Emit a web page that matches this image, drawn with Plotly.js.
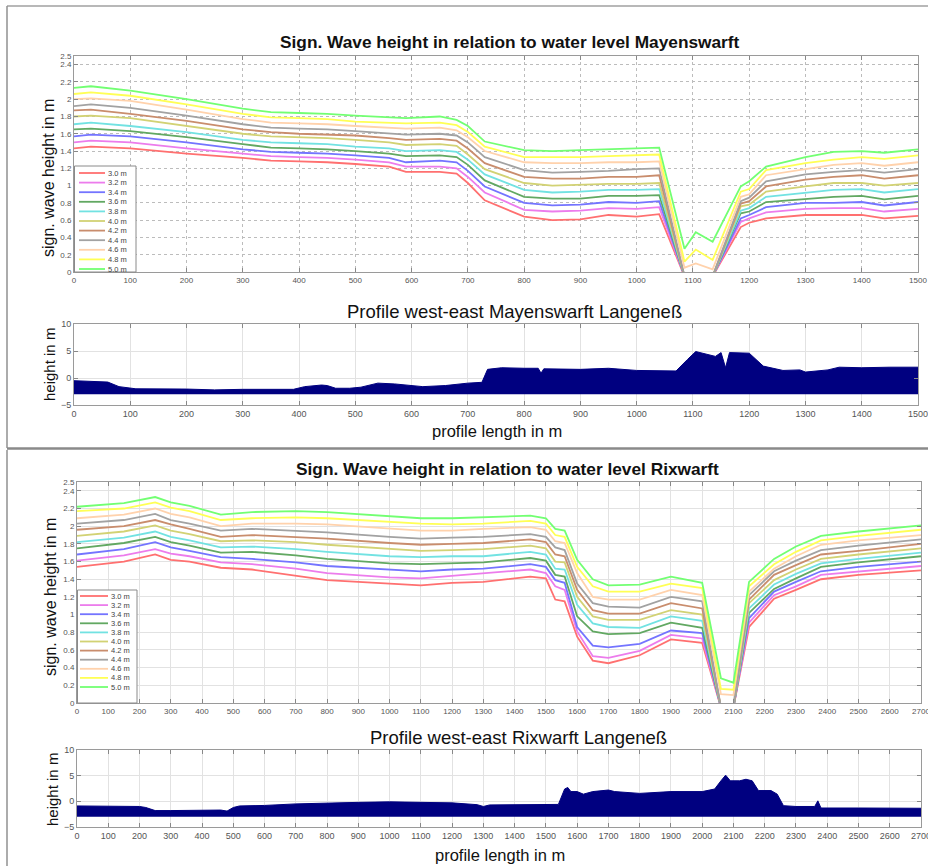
<!DOCTYPE html>
<html><head><meta charset="utf-8">
<script src="https://cdn.plot.ly/plotly-3.0.1.min.js"></script>
<style>html,body{margin:0;padding:0;background:#fff}</style>
</head><body><div id="chart" style="width:928px;height:866px"></div>
<script>
// ---------- data ----------
const levelLabels = ['3.0 m','3.2 m','3.4 m','3.6 m','3.8 m','4.0 m','4.2 m','4.4 m','4.6 m','4.8 m','5.0 m'];
const levelColors = ['#ff7070','#ec7cec','#7474ff','#62a862','#72e2e2','#d2d274','#c98d6d','#a2a2a2','#ffd2ac','#ffff55','#72ff72'];

// Mayenswarft: significant wave height (m) along profile (m)
const xMay = [0,30,100,200,300,350,400,450,500,560,590,650,680,700,730,800,850,900,950,1000,1040,1085,1105,1135,1185,1200,1230,1300,1350,1400,1440,1500];
const may30 = [1.43,1.45,1.43,1.37,1.32,1.29,1.28,1.27,1.25,1.22,1.16,1.16,1.14,1.03,0.83,0.64,0.60,0.61,0.66,0.64,0.67,-0.05,-0.1,-0.05,0.52,0.57,0.62,0.66,0.66,0.66,0.62,0.65];
const may32 = [1.50,1.52,1.50,1.43,1.37,1.34,1.33,1.32,1.30,1.27,1.22,1.22,1.20,1.10,0.92,0.72,0.70,0.71,0.74,0.73,0.75,-0.05,-0.1,-0.05,0.58,0.62,0.69,0.73,0.74,0.74,0.70,0.73];
const may34 = [1.57,1.59,1.57,1.50,1.42,1.39,1.38,1.37,1.35,1.32,1.27,1.29,1.27,1.17,0.99,0.80,0.77,0.78,0.81,0.80,0.82,-0.05,-0.1,-0.05,0.62,0.66,0.75,0.80,0.80,0.81,0.77,0.81];
const may36 = [1.65,1.66,1.63,1.56,1.48,1.44,1.43,1.42,1.40,1.37,1.34,1.35,1.33,1.24,1.06,0.87,0.85,0.85,0.88,0.88,0.89,-0.05,-0.1,-0.05,0.68,0.70,0.81,0.85,0.87,0.88,0.84,0.88];
const may38 = [1.71,1.73,1.69,1.62,1.53,1.50,1.49,1.48,1.45,1.43,1.40,1.41,1.39,1.30,1.13,0.95,0.92,0.93,0.95,0.95,0.96,-0.05,-0.1,-0.05,0.71,0.74,0.87,0.92,0.95,0.96,0.92,0.96];
const may40 = [1.80,1.81,1.78,1.69,1.60,1.57,1.56,1.55,1.53,1.50,1.47,1.48,1.46,1.36,1.19,1.03,1.00,1.01,1.02,1.02,1.03,-0.05,-0.1,-0.05,0.76,0.78,0.93,0.99,1.03,1.03,1.00,1.03];
const may42 = [1.87,1.88,1.83,1.75,1.65,1.62,1.60,1.59,1.58,1.55,1.53,1.54,1.52,1.43,1.26,1.10,1.08,1.08,1.10,1.10,1.12,-0.05,-0.1,-0.05,0.79,0.82,0.99,1.07,1.10,1.12,1.08,1.12];
const may44 = [1.92,1.94,1.90,1.81,1.71,1.67,1.66,1.65,1.63,1.60,1.59,1.60,1.58,1.50,1.33,1.18,1.15,1.16,1.17,1.19,1.20,-0.05,-0.1,-0.05,0.82,0.86,1.05,1.13,1.16,1.18,1.15,1.19];
const may46 = [2.00,2.01,1.98,1.88,1.77,1.73,1.72,1.71,1.69,1.67,1.66,1.67,1.64,1.56,1.40,1.27,1.26,1.26,1.27,1.27,1.28,0.05,0.10,0.03,0.87,0.90,1.12,1.19,1.24,1.26,1.23,1.27];
const may48 = [2.06,2.08,2.04,1.94,1.83,1.79,1.78,1.77,1.74,1.73,1.72,1.73,1.70,1.62,1.45,1.33,1.33,1.33,1.34,1.35,1.36,0.12,0.26,0.14,0.93,0.96,1.18,1.26,1.30,1.33,1.31,1.35];
const may50 = [2.13,2.15,2.10,2.00,1.89,1.85,1.84,1.83,1.81,1.79,1.78,1.80,1.76,1.69,1.51,1.41,1.40,1.41,1.42,1.43,1.44,0.27,0.46,0.35,0.99,1.05,1.22,1.33,1.39,1.40,1.38,1.42];

// Rixwarft: significant wave height (m) along profile (m)
const xRix = [0,150,250,300,360,460,560,700,800,1000,1100,1200,1300,1450,1500,1530,1560,1600,1650,1700,1800,1900,2000,2060,2100,2150,2230,2300,2380,2500,2700];
const rix30 = [1.54,1.60,1.68,1.62,1.60,1.53,1.51,1.44,1.39,1.35,1.33,1.36,1.37,1.43,1.41,1.17,1.15,0.75,0.48,0.45,0.54,0.72,0.68,-0.05,-0.05,0.86,1.18,1.28,1.40,1.45,1.50];
const rix32 = [1.61,1.67,1.74,1.69,1.66,1.59,1.57,1.52,1.47,1.42,1.41,1.44,1.47,1.51,1.47,1.32,1.28,0.81,0.53,0.51,0.59,0.77,0.73,-0.05,-0.05,0.91,1.22,1.32,1.45,1.49,1.55];
const rix34 = [1.68,1.74,1.82,1.76,1.72,1.65,1.63,1.59,1.55,1.51,1.49,1.51,1.52,1.57,1.54,1.39,1.36,0.86,0.65,0.63,0.67,0.82,0.79,-0.05,-0.05,0.96,1.26,1.37,1.49,1.54,1.60];
const rix36 = [1.75,1.81,1.88,1.82,1.78,1.70,1.71,1.67,1.63,1.58,1.57,1.58,1.59,1.64,1.61,1.45,1.43,0.98,0.81,0.78,0.79,0.91,0.85,-0.05,-0.05,1.02,1.29,1.41,1.54,1.59,1.66];
const rix38 = [1.82,1.87,1.94,1.88,1.84,1.76,1.77,1.74,1.71,1.66,1.65,1.66,1.66,1.71,1.68,1.52,1.51,1.11,0.90,0.86,0.85,0.98,0.93,-0.05,-0.05,1.07,1.34,1.46,1.58,1.63,1.70];
const rix40 = [1.89,1.94,2.01,1.95,1.91,1.83,1.84,1.82,1.79,1.74,1.72,1.73,1.74,1.78,1.75,1.60,1.59,1.20,0.98,0.94,0.94,1.05,1.00,-0.05,-0.05,1.13,1.39,1.51,1.63,1.68,1.75];
const rix42 = [1.96,2.00,2.07,2.02,1.97,1.88,1.90,1.88,1.86,1.81,1.79,1.80,1.81,1.85,1.82,1.68,1.66,1.28,1.05,1.01,1.01,1.13,1.07,-0.05,-0.05,1.17,1.45,1.56,1.68,1.72,1.80];
const rix44 = [2.03,2.07,2.14,2.07,2.03,1.95,1.97,1.95,1.93,1.88,1.86,1.87,1.88,1.91,1.88,1.76,1.73,1.35,1.13,1.09,1.08,1.20,1.15,-0.05,-0.05,1.22,1.49,1.61,1.73,1.78,1.85];
const rix46 = [2.09,2.13,2.20,2.14,2.10,2.00,2.03,2.03,2.02,1.97,1.95,1.95,1.97,1.99,1.96,1.83,1.81,1.47,1.20,1.17,1.17,1.28,1.22,0.10,0.09,1.26,1.52,1.66,1.79,1.84,1.90];
const rix48 = [2.17,2.20,2.27,2.21,2.17,2.07,2.09,2.10,2.09,2.05,2.03,2.02,2.03,2.06,2.03,1.90,1.88,1.54,1.32,1.26,1.26,1.35,1.30,0.16,0.15,1.32,1.57,1.71,1.84,1.89,1.96];
const rix50 = [2.22,2.26,2.33,2.27,2.23,2.13,2.16,2.17,2.16,2.11,2.09,2.09,2.10,2.12,2.09,1.97,1.95,1.62,1.40,1.33,1.34,1.43,1.36,0.28,0.23,1.37,1.63,1.77,1.89,1.94,2.01];

// Terrain profiles (height in m)
const profMayX = [0,60,80,110,200,250,300,390,410,440,450,465,490,510,540,570,620,660,700,725,735,760,800,825,830,835,900,950,1000,1070,1090,1105,1140,1150,1158,1165,1200,1225,1260,1290,1300,1340,1360,1400,1450,1500];
const profMayY = [-0.5,-0.75,-1.6,-2.0,-2.05,-2.2,-2.1,-2.1,-1.6,-1.3,-1.4,-1.9,-1.9,-1.7,-0.95,-1.1,-1.6,-1.4,-0.95,-0.8,1.6,1.9,1.8,1.8,0.9,1.7,1.6,1.8,1.4,1.3,3.4,4.9,4.0,4.7,1.9,4.7,4.6,2.2,1.4,1.5,1.1,1.5,2.0,1.9,2.0,2.0];
const profRixX = [0,200,220,250,300,400,460,480,500,520,600,700,800,900,1000,1100,1200,1280,1300,1320,1400,1540,1560,1570,1580,1600,1620,1650,1700,1720,1800,1900,2000,2040,2060,2075,2090,2120,2140,2160,2180,2220,2240,2260,2300,2360,2370,2380,2500,2700];
const profRixY = [-0.9,-1.0,-1.2,-1.8,-1.8,-1.7,-1.7,-1.9,-1.2,-0.9,-0.8,-0.5,-0.3,-0.2,-0.1,-0.2,-0.3,-0.65,-1.0,-0.7,-0.65,-0.6,2.4,2.7,1.9,1.9,1.4,1.9,2.2,1.9,1.55,1.9,1.9,2.4,4.0,5.1,4.0,4.0,4.3,4.0,2.1,2.1,1.4,-0.85,-1.0,-1.0,0.1,-1.3,-1.3,-1.35];
const profileBase = -3;

const waveTicks = [0,0.2,0.4,0.6,0.8,1,1.2,1.4,1.6,1.8,2,2.2,2.4,2.5];
const heightTicks = [-5,0,5,10];

const titleMay = 'Sign. Wave height in relation to water level Mayenswarft';
const titleRix = 'Sign. Wave height in relation to water level Rixwarft';
const profTitleMay = 'Profile west-east Mayenswarft Langeneß';
const profTitleRix = 'Profile west-east Rixwarft Langeneß';
const yTitleWave = 'sign. wave height in m';
const yTitleProf = 'height in m';
const xTitleProf = 'profile length in m';

// ---------- layout helpers ----------
const W = 928, H = 866;
const px = v => v / W;
const py = v => 1 - v / H;
const FONT = 'Liberation Sans, Arial, sans-serif';

const maySeries = [may30,may32,may34,may36,may38,may40,may42,may44,may46,may48,may50];
const rixSeries = [rix30,rix32,rix34,rix36,rix38,rix40,rix42,rix44,rix46,rix48,rix50];

const traces = [];
maySeries.forEach((s,i) => traces.push({x:xMay, y:s, xaxis:'x', yaxis:'y', type:'scatter', mode:'lines',
  line:{color:levelColors[i], width:1.8}, name:levelLabels[i], showlegend:false, hoverinfo:'skip'}));
rixSeries.forEach((s,i) => traces.push({x:xRix, y:s, xaxis:'x3', yaxis:'y3', type:'scatter', mode:'lines',
  line:{color:levelColors[i], width:1.8}, name:levelLabels[i], showlegend:false, hoverinfo:'skip'}));
// profiles: base then filled profile
traces.push({x:profMayX, y:profMayX.map(()=>profileBase), xaxis:'x2', yaxis:'y2', mode:'lines', line:{width:0, color:'#000080'}, showlegend:false, hoverinfo:'skip'});
traces.push({x:profMayX, y:profMayY, xaxis:'x2', yaxis:'y2', mode:'lines', fill:'tonexty', fillcolor:'#000080', line:{width:1, color:'#000080'}, showlegend:false, hoverinfo:'skip'});
traces.push({x:profRixX, y:profRixX.map(()=>profileBase), xaxis:'x4', yaxis:'y4', mode:'lines', line:{width:0, color:'#000080'}, showlegend:false, hoverinfo:'skip'});
traces.push({x:profRixX, y:profRixY, xaxis:'x4', yaxis:'y4', mode:'lines', fill:'tonexty', fillcolor:'#000080', line:{width:1, color:'#000080'}, showlegend:false, hoverinfo:'skip'});

function axis(domain, anchor, range, extra) {
  return Object.assign({
    domain: domain, anchor: anchor, range: range, showline: true, linecolor: '#9a9a9a', linewidth: 1,
    mirror: 'allticks', ticks: 'inside', ticklen: 4, tickcolor: '#888', tickwidth: 1,
    showgrid: true, gridcolor: '#e2e2e2', gridwidth: 1, zeroline: false, fixedrange: true, automargin: false,
    ticklabeloverflow: 'allow',
    tickfont: {family: FONT, size: 8, color: '#555'}
  }, extra || {});
}

const dx1 = [px(74), px(918)], dx3 = [px(77), px(921)];
const dy1 = [py(272), py(56)], dy2 = [py(405), py(324)], dy3 = [py(703), py(482)], dy4 = [py(827), py(750)];
const dotted = {gridcolor:'#bcbcbc', griddash:'dot'};

const layout = {
  width: W, height: H, margin: {l:0, r:0, t:0, b:0}, paper_bgcolor: '#fff', plot_bgcolor: '#fff',
  showlegend: false, font: {family: FONT},
  xaxis: axis(dx1, 'y', [0,1500], Object.assign({dtick:100, tick0:0}, dotted)),
  yaxis: axis(dy1, 'x', [0,2.5], Object.assign({tickvals: waveTicks}, dotted)),
  xaxis2: axis(dx1, 'y2', [0,1500], {dtick:100, tick0:0, tickfont:{family:FONT, size:9, color:'#555'}}),
  yaxis2: axis(dy2, 'x2', [-5,10], {tickvals: heightTicks, tickfont:{family:FONT, size:9, color:'#555'}}),
  xaxis3: axis(dx3, 'y3', [0,2700], {dtick:100, tick0:0}),
  yaxis3: axis(dy3, 'x3', [0,2.5], {tickvals: waveTicks}),
  xaxis4: axis(dx3, 'y4', [0,2700], {dtick:100, tick0:0, tickfont:{family:FONT, size:9, color:'#555'}}),
  yaxis4: axis(dy4, 'x4', [-5,10], {tickvals: heightTicks, tickfont:{family:FONT, size:9, color:'#555'}}),
  shapes: [], annotations: []
};

function ann(text, x, y, size, opts) {
  layout.annotations.push(Object.assign({text:text, x:px(x), y:py(y), xref:'paper', yref:'paper', showarrow:false,
    xanchor:'center', yanchor:'middle', font:{family:FONT, size:size, color:'#111'}}, opts || {}));
}
ann('<b>'+titleMay+'</b>', 510, 42, 17.3);
ann(profTitleMay, 514, 311, 18.5);
ann(yTitleWave, 48, 178, 16, {textangle:-90});
ann(yTitleProf, 49, 365, 15, {textangle:-90});
ann(xTitleProf, 497, 431, 16.5);
ann('<b>'+titleRix+'</b>', 507, 469, 17.3);
ann(profTitleRix, 518, 737, 18.5);
ann(yTitleWave, 50, 597, 16, {textangle:-90});
ann(yTitleProf, 52, 790, 15, {textangle:-90});
ann(xTitleProf, 500, 855, 16.5);

function line(x0,y0,x1,y1,color,width){
  layout.shapes.push({type:'line', xref:'paper', yref:'paper', x0:px(x0), y0:py(y0), x1:px(x1), y1:py(y1), line:{color:color, width:width}});
}
// panel frames
line(7,6,928,6,'#a0a0a0',1.5);
line(7,6,7,448,'#909090',1.5);
line(7,448.5,928,448.5,'#8a8a8a',2.5);
line(7,450,7,866,'#909090',1.5);

// custom compact legends
function legend(bx0, by0, bx1, by1, firstY, step, lx0, lx1, tx) {
  layout.shapes.push({type:'rect', xref:'paper', yref:'paper', x0:px(bx0), y0:py(by1), x1:px(bx1), y1:py(by0),
    line:{color:'#8a8a8a', width:1}, fillcolor:'#fff'});
  levelLabels.forEach((lab,i) => {
    const y = firstY + step*i;
    line(lx0, y, lx1, y, levelColors[i], 1.8);
    layout.annotations.push({text:lab, x:px(tx), y:py(y), xref:'paper', yref:'paper', showarrow:false,
      xanchor:'left', yanchor:'middle', font:{family:FONT, size:7.5, color:'#444'}});
  });
}
legend(74.5, 166, 136, 272, 173, 9.6, 79, 105, 106);
legend(77.5, 590, 137, 703, 596, 9.1, 80, 108, 109);

Plotly.newPlot('chart', traces, layout, {displayModeBar:false, staticPlot:true});
</script></body></html>
